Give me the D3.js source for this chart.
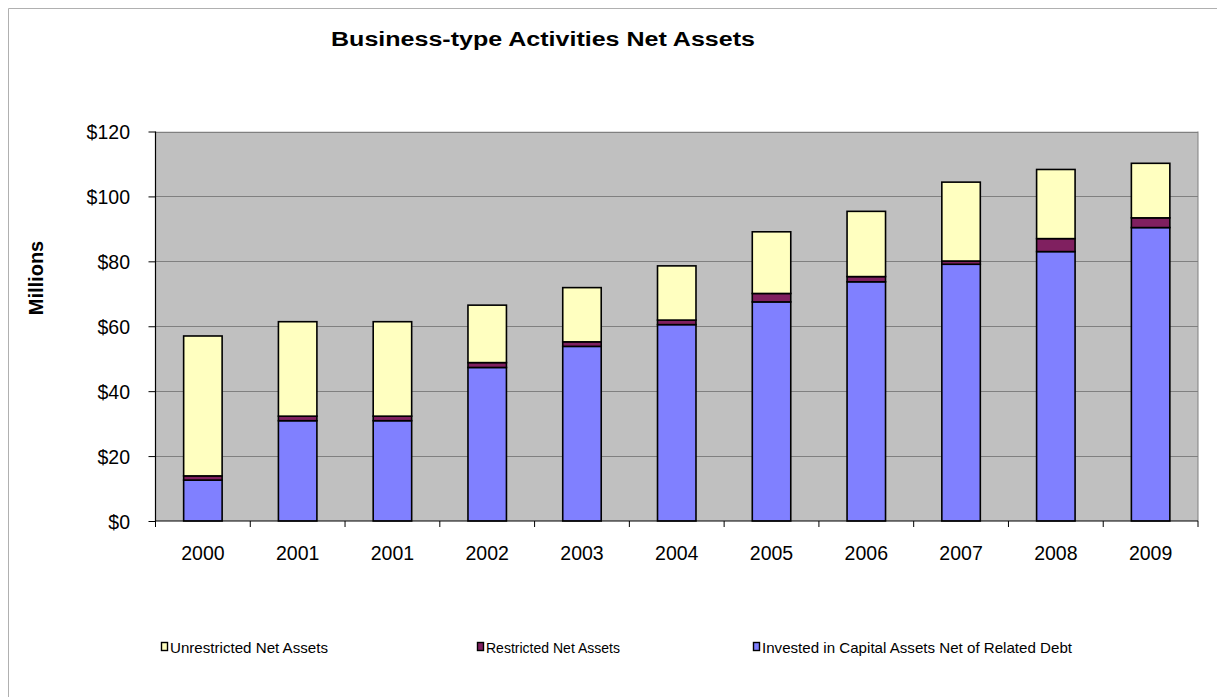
<!DOCTYPE html>
<html>
<head>
<meta charset="utf-8">
<script src="https://cdn.jsdelivr.net/npm/d3@7/dist/d3.min.js"></script>
<style>
  html, body { margin: 0; padding: 0; background: #ffffff; }
  svg { display: block; font-family: "Liberation Sans", Arial, sans-serif; }
</style>
</head>
<body>
<svg id="chart" width="1217" height="697"></svg>
<script>
// Fiscal-year categories (2001 appears twice in the source table)
const years = ["2000", "2001", "2001", "2002", "2003", "2004", "2005", "2006", "2007", "2008", "2009"];

// Net assets by component, $ millions
const invested     = [12.6, 30.9, 30.9, 47.3, 53.8, 60.5, 67.5, 73.7, 79.1, 83.0, 90.4];
const restricted   = [1.3, 1.4, 1.4, 1.5, 1.4, 1.4, 2.6, 1.6, 1.0, 4.0, 3.0];
const unrestricted = [43.1, 29.1, 29.1, 17.7, 16.7, 16.7, 19.0, 20.1, 24.3, 21.3, 16.8];

const yTicks = [0, 20, 40, 60, 80, 100, 120];

const seriesKeys   = ["invested", "restricted", "unrestricted"];
const seriesNames  = {
  invested: "Invested in Capital Assets Net of Related Debt",
  restricted: "Restricted Net Assets",
  unrestricted: "Unrestricted Net Assets"
};
const seriesColors = { invested: "#8080FF", restricted: "#802060", unrestricted: "#FFFFC0" };

const rows = years.map((y, i) => ({
  idx: i, year: y,
  invested: invested[i], restricted: restricted[i], unrestricted: unrestricted[i]
}));

const svg = d3.select("#chart");

// outer chart frame (only its top and left edges fall inside the page)
svg.append("path")
  .attr("d", "M8.5,697V8.5H1217")
  .attr("fill", "none").attr("stroke", "#b0b0b0").attr("stroke-width", 1);

const plot = { left: 155.5, top: 131.5, right: 1198, bottom: 521 };

const x = d3.scaleBand()
  .domain(rows.map(d => d.idx))
  .range([plot.left, plot.right])
  .paddingInner(0.594).paddingOuter(0.297);

const y = d3.scaleLinear().domain([0, 120]).range([plot.bottom, plot.top]);

// plot background
svg.append("rect")
  .attr("x", plot.left).attr("y", plot.top)
  .attr("width", plot.right - plot.left).attr("height", plot.bottom - plot.top)
  .attr("fill", "#C0C0C0");

// gridlines
svg.append("g").selectAll("line")
  .data(yTicks.filter(t => t > 0))
  .join("line")
  .attr("x1", plot.left).attr("x2", plot.right)
  .attr("y1", d => Math.round(y(d)) + 0.5).attr("y2", d => Math.round(y(d)) + 0.5)
  .attr("stroke", "#808080").attr("stroke-width", 1);

// right edge of plot
svg.append("line")
  .attr("x1", plot.right).attr("x2", plot.right)
  .attr("y1", plot.top).attr("y2", plot.bottom)
  .attr("stroke", "#808080");

// stacked bars
const stacked = d3.stack().keys(seriesKeys)(rows);

svg.append("g").selectAll("g")
  .data(stacked)
  .join("g")
  .attr("fill", d => seriesColors[d.key])
  .selectAll("rect")
  .data(d => d)
  .join("rect")
  .attr("x", d => x(d.data.idx))
  .attr("width", x.bandwidth())
  .attr("y", d => y(d[1]))
  .attr("height", d => y(d[0]) - y(d[1]))
  .attr("stroke", "#000000")
  .attr("stroke-width", 1.6);

// y axis
const yAxis = d3.axisLeft(y)
  .tickValues(yTicks)
  .tickFormat(d => "$" + d)
  .tickSize(7);

const yG = svg.append("g")
  .attr("transform", `translate(${plot.left},0)`)
  .call(yAxis);
yG.select(".domain").attr("stroke", "#000").attr("stroke-width", 1.2).attr("d", `M0,${plot.top}V${plot.bottom}`);
yG.selectAll(".tick line").attr("stroke", "#000");
yG.selectAll(".tick text")
  .attr("font-size", 19.5).attr("fill", "#000")
  .attr("font-family", "Liberation Sans, Arial, sans-serif")
  .attr("x", -25.5).attr("dy", "0.36em");

// x axis baseline and category ticks between bars
svg.append("line")
  .attr("x1", plot.left).attr("x2", plot.right)
  .attr("y1", plot.bottom).attr("y2", plot.bottom)
  .attr("stroke", "#000").attr("stroke-width", 1.2);

const step = x.step();
const boundaries = d3.range(rows.length + 1).map(i => plot.left + i * step);
svg.append("g").selectAll("line")
  .data(boundaries)
  .join("line")
  .attr("x1", d => d).attr("x2", d => d)
  .attr("y1", plot.bottom).attr("y2", plot.bottom + 6)
  .attr("stroke", "#000");

svg.append("g").selectAll("text")
  .data(rows)
  .join("text")
  .attr("x", d => x(d.idx) + x.bandwidth() / 2)
  .attr("y", 560)
  .attr("text-anchor", "middle")
  .attr("font-size", 19.5)
  .attr("fill", "#000")
  .text(d => d.year);

// title
svg.append("text")
  .attr("x", 331).attr("y", 46)
  .attr("font-size", 19.5).attr("font-weight", "bold")
  .attr("textLength", 424).attr("lengthAdjust", "spacingAndGlyphs")
  .text("Business-type Activities Net Assets");

// y axis title
svg.append("text")
  .attr("transform", "translate(43,278) rotate(-90)")
  .attr("text-anchor", "middle")
  .attr("font-size", 20).attr("font-weight", "bold")
  .text("Millions");

// legend
const legendItems = [
  { key: "unrestricted", x: 161, w: 158 },
  { key: "restricted", x: 477, w: 134 },
  { key: "invested", x: 753, w: 310 }
];
const lg = svg.append("g").selectAll("g")
  .data(legendItems)
  .join("g")
  .attr("transform", d => `translate(${d.x},642)`);
lg.append("rect")
  .attr("x", 0.5).attr("y", 0.5).attr("width", 6).attr("height", 8)
  .attr("fill", d => seriesColors[d.key])
  .attr("stroke", "#000").attr("stroke-width", 1.4);
lg.append("text")
  .attr("x", 9).attr("y", 10.5)
  .attr("font-size", 14.5)
  .attr("textLength", d => d.w).attr("lengthAdjust", "spacingAndGlyphs")
  .attr("fill", "#000")
  .text(d => seriesNames[d.key]);
</script>
</body>
</html>
